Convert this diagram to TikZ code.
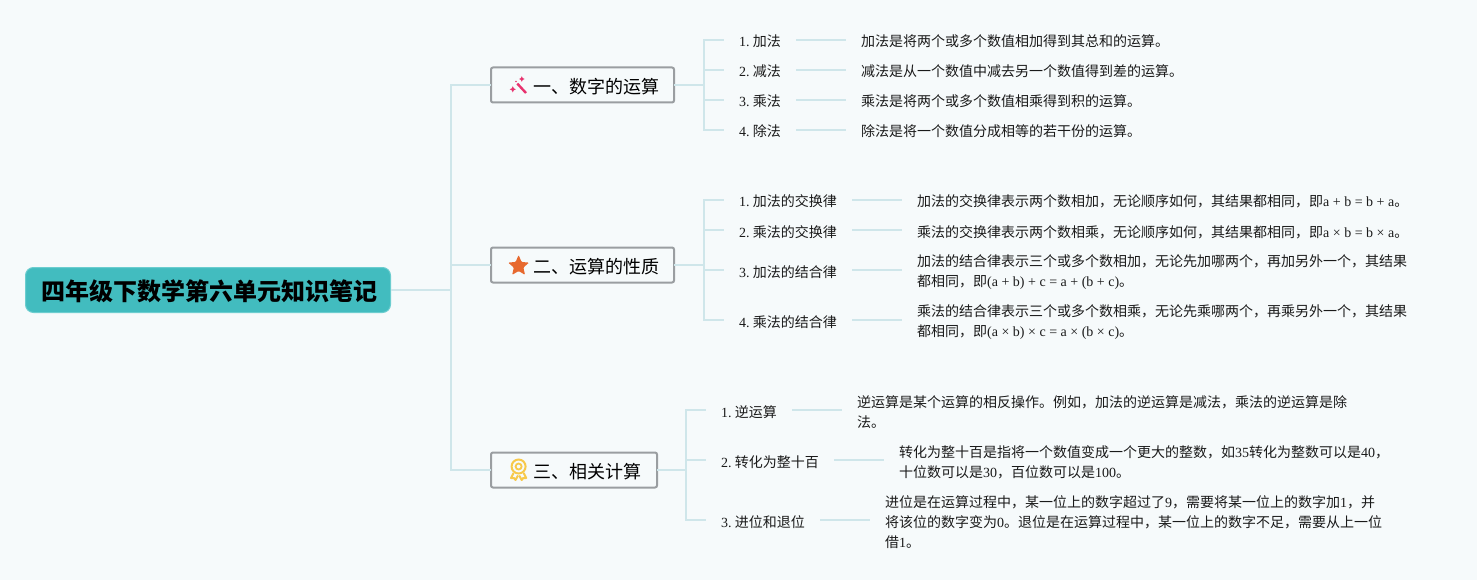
\documentclass[tikz,border=0pt]{standalone}
\usepackage{fontspec}
\usetikzlibrary{shapes.geometric}
\setmainfont{Noto Sans CJK SC}
\newfontfamily\latfont{Liberation Serif}
\newcommand\lat[1]{{\latfont #1}}
\newcommand\st{\rule[-2pt]{0pt}{18pt}}
\newcommand\num[1]{\lat{#1. }\hspace{-1.5pt}}
\newcommand\bst{\rule[-3pt]{0pt}{23pt}}
\definecolor{bgc}{HTML}{F6FAFB}
\definecolor{linkc}{HTML}{CFE6EA}
\definecolor{rootc}{HTML}{42BCBF}
\definecolor{rootb}{HTML}{6CCDCF}
\definecolor{boxb}{HTML}{9A9EA1}
\definecolor{pinkc}{HTML}{E8326E}
\definecolor{starc}{HTML}{E7692F}
\definecolor{medalc}{HTML}{F7C94B}
\definecolor{txtc}{HTML}{1A1A1A}
\tikzset{
  x=1pt,y=-1pt,
  link/.style={draw=linkc,line width=2pt},
  rootnode/.style={fill=rootc,draw=rootb,line width=1pt,rounded corners=8pt,minimum width=365pt,minimum height=45pt,inner sep=0pt,font=\fontsize{24}{28}\bfseries\selectfont,text=black},
  branch/.style={draw=boxb,fill=bgc,line width=2pt,rounded corners=2pt,outer sep=0pt,minimum height=35pt,inner sep=0pt,anchor=west,font=\fontsize{18}{22}\selectfont,text=black},
  leaf/.style={inner ysep=0pt,inner xsep=15pt,anchor=west,align=left,font=\fontsize{14}{20}\selectfont,text=txtc},
}
\begin{document}
\begin{tikzpicture}
\useasboundingbox (0,0) rectangle (1477,580);
\fill[bgc] (0,0) rectangle (1477,580);

\node[rootnode] (root) at (208,290) {\rule[-3pt]{0pt}{27pt}\hspace*{2pt}四年级下数学第六单元知识笔记};
\node[branch,minimum width=183pt] (b1) at (491,85) {\bst\hspace*{28pt}一、数字的运算};
\node[branch,minimum width=183pt] (b2) at (491,265) {\bst\hspace*{28pt}二、运算的性质};
\node[branch,minimum width=166pt] (b3) at (491,470) {\bst\hspace*{26pt}三、相关计算};

\coordinate (j0) at (451,290);
\coordinate (j1) at (704,85);
\coordinate (j2) at (704,265);
\coordinate (j3) at (686,470);

% group 1
\node[leaf] (l11) at (724,40) {\st\num{1}加法};
\node[leaf] (l12) at (724,70) {\st\num{2}减法};
\node[leaf] (l13) at (724,100) {\st\num{3}乘法};
\node[leaf] (l14) at (724,130) {\st\num{4}除法};
\node[leaf] (d11) at (846,40) {\st 加法是将两个或多个数值相加得到其总和的运算。};
\node[leaf] (d12) at (846,70) {\st 减法是从一个数值中减去另一个数值得到差的运算。};
\node[leaf] (d13) at (846,100) {\st 乘法是将两个或多个数值相乘得到积的运算。};
\node[leaf] (d14) at (846,130) {\st 除法是将一个数值分成相等的若干份的运算。};

% group 2
\node[leaf] (l21) at (724,200) {\st\num{1}加法的交换律};
\node[leaf] (l22) at (724,230) {\st\num{2}乘法的交换律};
\node[leaf] (l23) at (724,270) {\st\num{3}加法的结合律};
\node[leaf] (l24) at (724,320) {\st\num{4}乘法的结合律};
\node[leaf] (d21) at (902,200) {\st 加法的交换律表示两个数相加，无论顺序如何，其结果都相同，即\lat{a + b = b + a}。};
\node[leaf] (d22) at (902,230) {\st 乘法的交换律表示两个数相乘，无论顺序如何，其结果都相同，即\lat{a × b = b × a}。};
\node[leaf] (d23) at (902,270) {\st 加法的结合律表示三个或多个数相加，无论先加哪两个，再加另外一个，其结果\\\st 都相同，即\lat{(a + b) + c = a + (b + c)}。};
\node[leaf] (d24) at (902,320) {\st 乘法的结合律表示三个或多个数相乘，无论先乘哪两个，再乘另外一个，其结果\\\st 都相同，即\lat{(a × b) × c = a × (b × c)}。};

% group 3
\node[leaf] (l31) at (706,410) {\st\num{1}逆运算};
\node[leaf] (l32) at (706,460) {\st\num{2}转化为整十百};
\node[leaf] (l33) at (706,520) {\st\num{3}进位和退位};
\node[leaf] (d31) at (842,410) {\st 逆运算是某个运算的相反操作。例如，加法的逆运算是减法，乘法的逆运算是除\\\st 法。};
\node[leaf] (d32) at (884,460) {\st 转化为整十百是指将一个数值变成一个更大的整数，如\lat{35}转化为整数可以是\lat{40}，\\\st 十位数可以是\lat{30}，百位数可以是\lat{100}。};
\node[leaf] (d33) at (870,520) {\st 进位是在运算过程中，某一位上的数字超过了\lat{9}，需要将某一位上的数字加\lat{1}，并\\\st 将该位的数字变为\lat{0}。退位是在运算过程中，某一位上的数字不足，需要从上一位\\\st 借\lat{1}。};

% connectors
\draw[link] (root.east) -- (j0);
\foreach \b in {b1,b2,b3} \draw[link] (j0) |- (\b.west);
\draw[link] (b1.east) -- (j1);
\draw[link] (b2.east) -- (j2);
\draw[link] (b3.east) -- (j3);
\foreach \l in {l11,l12,l13,l14} \draw[link] (j1) |- (\l.west);
\foreach \l in {l21,l22,l23,l24} \draw[link] (j2) |- (\l.west);
\foreach \l in {l31,l32,l33} \draw[link] (j3) |- (\l.west);
\foreach \n in {11,12,13,14,21,22,23,24,31,32,33} \draw[link] (l\n.east) -- (d\n.west);

% icons
\draw[pinkc,line width=2.4pt] (517.3,83.6) -- (526,93);
\fill[pinkc] (521.8,76.2) -- (522.7,78.1) -- (524.6,79) -- (522.7,79.9) -- (521.8,81.8) -- (520.9,79.9) -- (519,79) -- (520.9,78.1) -- cycle;
\fill[pinkc] (512.8,86.2) -- (513.8,88.3) -- (515.9,89.3) -- (513.8,90.3) -- (512.8,92.4) -- (511.8,90.3) -- (509.7,89.3) -- (511.8,88.3) -- cycle;
\fill[pinkc] (516,81.5) circle (0.8pt);

\node[star,star points=5,star point ratio=2.2,fill=starc,inner sep=0pt,minimum size=22pt,rounded corners=1pt] (starico) at (518.6,266) {};

\draw[medalc,line width=2pt] (518.6,466.5) circle (7pt);
\draw[medalc,line width=1.8pt] (518.6,466.5) circle (3pt);
\draw[medalc,line width=2pt,line join=round] (513.5,473) -- (511,478) -- (514,478) -- (515.5,480) -- (518,475.5);
\draw[medalc,line width=2pt,line join=round] (523.7,473) -- (526.2,478) -- (523.2,478) -- (521.7,480) -- (519.2,475.5);
\end{tikzpicture}
\end{document}
